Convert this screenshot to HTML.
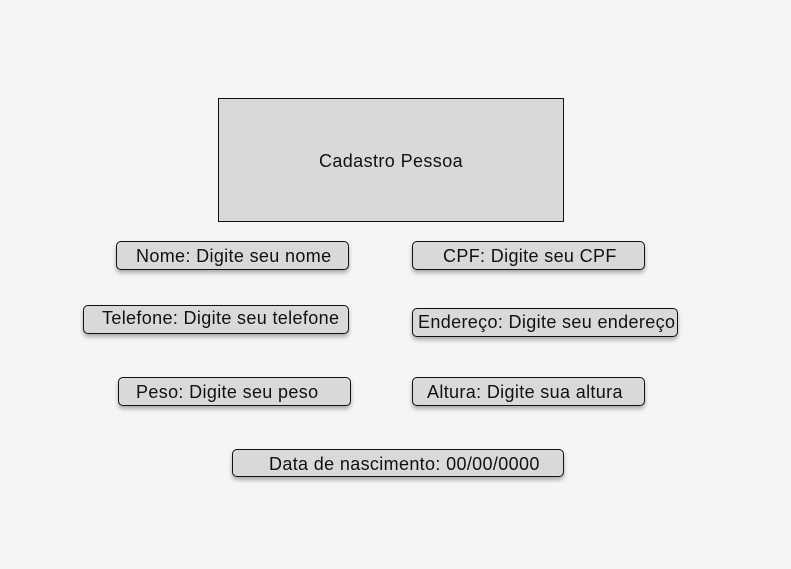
<!DOCTYPE html>
<html><head><style>
body{margin:0;width:791px;height:569px;background:#f5f5f5;position:relative;overflow:hidden;font-family:"Liberation Sans",sans-serif;color:#111}
.b{position:absolute;box-sizing:border-box;background:#d9d9d9;border:1.5px solid #111;border-radius:5px;box-shadow:0 3px 4px rgba(0,0,0,0.3);font-size:18px;letter-spacing:0.35px;line-height:26px;white-space:nowrap}
.b span{position:absolute;top:1px}
.m{position:absolute;left:218px;top:98px;width:346px;height:124px;box-sizing:border-box;background:#d9d9d9;border:1.5px solid #111;font-size:18px;letter-spacing:0.4px;text-align:center;line-height:124px}
</style></head><body>
<div class="m">Cadastro Pessoa</div>
<div class="b" style="left:116px;top:241px;width:233px;height:29px"><span style="left:19px">Nome: Digite seu nome</span></div>
<div class="b" style="left:412px;top:241px;width:233px;height:29px"><span style="left:30px">CPF: Digite seu CPF</span></div>
<div class="b" style="left:83px;top:305px;width:266px;height:29px"><span style="left:18px;top:-1px">Telefone: Digite seu telefone</span></div>
<div class="b" style="left:412px;top:308px;width:266px;height:29px"><span style="left:5px;top:0px">Endereço: Digite seu endereço</span></div>
<div class="b" style="left:118px;top:377px;width:233px;height:29px"><span style="left:17px">Peso: Digite seu peso</span></div>
<div class="b" style="left:412px;top:377px;width:233px;height:29px"><span style="left:14px">Altura: Digite sua altura</span></div>
<div class="b" style="left:232px;top:449px;width:332px;height:28px"><span style="left:36px">Data de nascimento: 00/00/0000</span></div>
</body></html>
